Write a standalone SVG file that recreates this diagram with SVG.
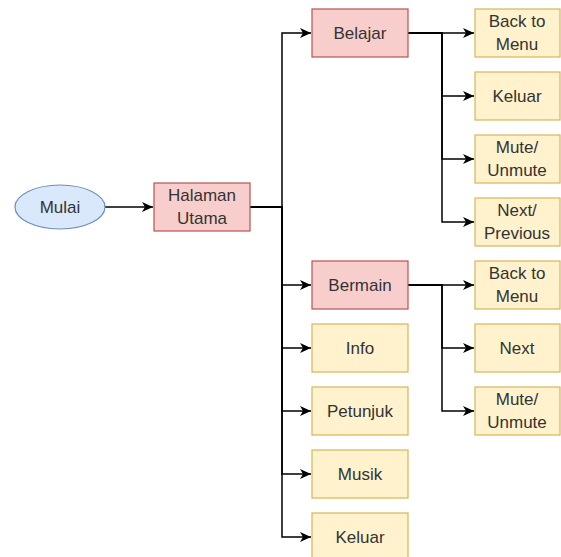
<svg xmlns="http://www.w3.org/2000/svg" width="561" height="557" viewBox="0 0 561 557">
<style>
.pink{fill:#f8cecc;stroke:#b85450;stroke-width:1.2}
.yel{fill:#fff2cc;stroke:#d6b656;stroke-width:1.2}
.blue{fill:#dae8fc;stroke:#6c8ebf;stroke-width:1.2}
text{font-family:"Liberation Sans",Arial,sans-serif;font-size:17px;fill:#333;text-anchor:middle}
.edge{fill:none;stroke:#000;stroke-width:1.5;marker-end:url(#arr)}
</style>
<defs>
<marker id="arr" markerUnits="userSpaceOnUse" markerWidth="12" markerHeight="11" refX="11" refY="5.5" orient="auto">
<path d="M0,0.5 L11,5.5 L0,10.5 L3,5.5 z" fill="#000"/>
</marker>
</defs>
<rect width="561" height="557" fill="#fff"/>
<g id="connectors">
<path class="edge" d="M105,207 H153"/>
<path class="edge" d="M250,207 H282 V33 H311"/>
<path class="edge" d="M250,207 H282 V285 H311"/>
<path class="edge" d="M250,207 H282 V348 H311"/>
<path class="edge" d="M250,207 H282 V411 H311"/>
<path class="edge" d="M250,207 H282 V474 H311"/>
<path class="edge" d="M250,207 H282 V537 H311"/>
<path class="edge" d="M408,33 H442 H474"/>
<path class="edge" d="M408,33 H442 V96 H474"/>
<path class="edge" d="M408,33 H442 V159 H474"/>
<path class="edge" d="M408,33 H442 V222 H474"/>
<path class="edge" d="M408,285 H442 H474"/>
<path class="edge" d="M408,285 H442 V348 H474"/>
<path class="edge" d="M408,285 H442 V411 H474"/>
</g>
<g id="mulai"><ellipse class="blue" cx="60" cy="207" rx="45" ry="22"/><text x="60" y="213">Mulai</text></g>
<g id="halaman"><rect class="pink" x="154" y="183" width="96" height="48"/><text x="202" y="201">Halaman</text><text x="202" y="224">Utama</text></g>
<g id="belajar"><rect class="pink" x="312" y="9" width="96" height="48"/><text x="360" y="39">Belajar</text></g>
<g id="bermain"><rect class="pink" x="312" y="261" width="96" height="48"/><text x="360" y="291">Bermain</text></g>
<g id="info"><rect class="yel" x="312" y="324" width="96" height="48"/><text x="360" y="354">Info</text></g>
<g id="petunjuk"><rect class="yel" x="312" y="387" width="96" height="48"/><text x="360" y="417">Petunjuk</text></g>
<g id="musik"><rect class="yel" x="312" y="450" width="96" height="48"/><text x="360" y="480">Musik</text></g>
<g id="keluar-main"><rect class="yel" x="312" y="513" width="96" height="48"/><text x="360" y="543">Keluar</text></g>
<g id="b-back"><rect class="yel" x="475" y="9" width="85" height="48"/><text x="517" y="27">Back to</text><text x="517" y="50">Menu</text></g>
<g id="b-keluar"><rect class="yel" x="475" y="72" width="85" height="48"/><text x="517" y="102">Keluar</text></g>
<g id="b-mute"><rect class="yel" x="475" y="135" width="85" height="48"/><text x="517" y="153">Mute/</text><text x="517" y="176">Unmute</text></g>
<g id="b-next"><rect class="yel" x="475" y="198" width="85" height="48"/><text x="517" y="216">Next/</text><text x="517" y="239">Previous</text></g>
<g id="m-back"><rect class="yel" x="475" y="261" width="85" height="48"/><text x="517" y="279">Back to</text><text x="517" y="302">Menu</text></g>
<g id="m-next"><rect class="yel" x="475" y="324" width="85" height="48"/><text x="517" y="354">Next</text></g>
<g id="m-mute"><rect class="yel" x="475" y="387" width="85" height="48"/><text x="517" y="405">Mute/</text><text x="517" y="428">Unmute</text></g>
</svg>
